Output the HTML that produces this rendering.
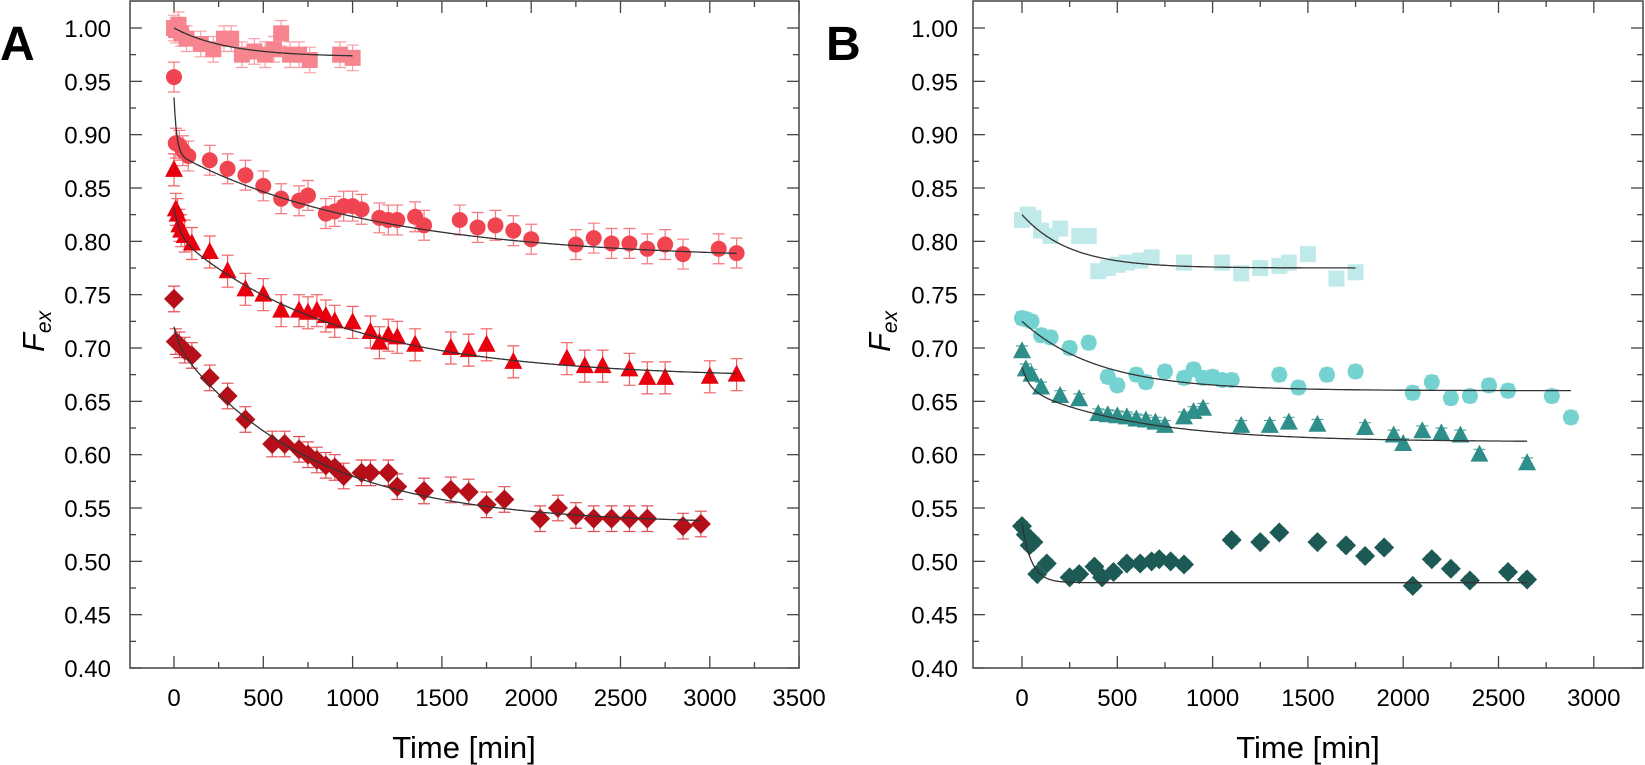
<!DOCTYPE html>
<html><head><meta charset="utf-8"><style>
html,body{margin:0;padding:0;background:#fff;}
svg{display:block;font-family:"Liberation Sans",Arial,sans-serif;}
</style></head><body>
<svg id="s" width="1645" height="765" viewBox="0 0 1645 765" xmlns="http://www.w3.org/2000/svg">
<text x="0" y="60" font-size="48" font-weight="bold">A</text>
<text x="826" y="60" font-size="48" font-weight="bold">B</text>
<text transform="translate(44,352) rotate(-90)" font-size="31" font-style="italic">F<tspan font-size="21" dy="7">ex</tspan></text>
<text transform="translate(890,352) rotate(-90)" font-size="31" font-style="italic">F<tspan font-size="21" dy="7">ex</tspan></text>
<text x="464" y="758" font-size="31" text-anchor="middle">Time [min]</text>
<text x="1308" y="758" font-size="31" text-anchor="middle">Time [min]</text>
<g id="g"></g>
</svg>
<script>
const NS="http://www.w3.org/2000/svg";const g=document.getElementById('g');
function el(t,a,txt){const e=document.createElementNS(NS,t);for(const k in a)e.setAttribute(k,a[k]);if(txt!==undefined)e.textContent=txt;g.appendChild(e);return e;}
const Y=v=>28+(1-v)*1066.67;
const P=[{L:130,R:799,x0:174,k:89.3/500,max:3500,lab:111},{L:973,R:1643,x0:1022,k:95.3/500,max:3000,lab:958}];
P.forEach(p=>{
 el('rect',{x:p.L,y:1,width:p.R-p.L,height:667,fill:'none',stroke:'#444','stroke-width':1.5});
 for(let i=0;i<=12;i++){const v=0.4+i*0.05,y=Y(v);
  el('line',{x1:p.L,y1:y,x2:p.L+12,y2:y,stroke:'#444','stroke-width':1.3});
  el('line',{x1:p.R,y1:y,x2:p.R-12,y2:y,stroke:'#444','stroke-width':1.3});
  if(i<12){const y2=Y(v+0.025);el('line',{x1:p.L,y1:y2,x2:p.L+6,y2:y2,stroke:'#444','stroke-width':1.3});el('line',{x1:p.R,y1:y2,x2:p.R-6,y2:y2,stroke:'#444','stroke-width':1.3});}
  el('text',{x:p.lab,y:y+9,'font-size':24,'text-anchor':'end'},v.toFixed(2));}
 for(let t=0;t<=p.max;t+=250){const x=p.x0+t*p.k;const big=t%500==0;
  el('line',{x1:x,y1:668,x2:x,y2:668-(big?12:6),stroke:'#444','stroke-width':1.3});
  el('line',{x1:x,y1:1,x2:x,y2:1+(big?12:6),stroke:'#444','stroke-width':1.3});
  if(big)el('text',{x:x,y:706,'font-size':24,'text-anchor':'middle'},String(t));}
});
function marker(shape,x,y,c){const r=8;
 if(shape=='s')el('rect',{x:x-r,y:y-r,width:2*r,height:2*r,fill:c});
 else if(shape=='c')el('circle',{cx:x,cy:y,r:r,fill:c});
 else if(shape=='t')el('polygon',{points:`${x},${y-10} ${x+9},${y+7} ${x-9},${y+7}`,fill:c});
 else el('polygon',{points:`${x},${y-10} ${x+10},${y} ${x},${y+10} ${x-10},${y}`,fill:c});}
function series(p,shape,c,ec,err,data,f,tmax){
 let d='';for(let t=0;t<=tmax;t+=5){d+=(t?'L':'M')+(p.x0+t*p.k).toFixed(1)+','+Y(f(t)).toFixed(1);}
 for(let i=0;i<data.length;i+=2){const x=p.x0+data[i]*p.k,y=Y(data[i+1]);
  if(err){const e=err*1066.67;el('path',{d:`M${x},${y-e}V${y+e}M${x-6},${y-e}h12M${x-6},${y+e}h12`,stroke:ec,'stroke-width':1.2,fill:'none'});}}
 for(let i=0;i<data.length;i+=2)marker(shape,p.x0+data[i]*p.k,Y(data[i+1]),c);
 el('path',{d:d,fill:'none',stroke:'#333','stroke-width':1.3});}
const A=P[0],B=P[1],E=Math.exp;
series(A,'s','#f7858f','#f7a0a8',0.012,[0,1.0,10,0.998,25,1.003,40,0.995,70,0.99,150,0.985,220,0.98,280,0.99,320,0.99,380,0.975,450,0.978,510,0.975,560,0.98,600,0.995,650,0.975,700,0.975,760,0.97,930,0.975,1000,0.972],t=>0.973+0.027*E(-t/300),1000);
series(A,'c','#f04450','#f57a80',0.014,[0,0.954,10,0.892,30,0.89,50,0.885,80,0.88,200,0.876,300,0.868,400,0.862,500,0.852,600,0.84,700,0.838,750,0.843,850,0.826,900,0.828,950,0.833,1000,0.833,1050,0.83,1150,0.822,1200,0.82,1250,0.82,1350,0.823,1400,0.815,1600,0.82,1700,0.813,1800,0.815,1900,0.81,2000,0.802,2250,0.797,2350,0.803,2450,0.798,2550,0.798,2650,0.793,2750,0.797,2850,0.788,3050,0.793,3150,0.789],t=>0.783+0.1*E(-t/1100)+0.052*E(-t/15),3150);
series(A,'t','#e8000f','#f06060',0.015,[0,0.867,10,0.83,20,0.825,30,0.815,40,0.81,60,0.805,100,0.798,200,0.79,300,0.772,400,0.755,500,0.75,600,0.735,700,0.735,750,0.733,800,0.735,850,0.73,900,0.725,1000,0.724,1100,0.715,1150,0.705,1200,0.712,1250,0.71,1350,0.703,1550,0.7,1650,0.698,1750,0.703,1900,0.687,2200,0.69,2300,0.683,2400,0.683,2550,0.68,2650,0.672,2750,0.672,3000,0.673,3150,0.675],t=>0.672+0.135*E(-t/900)+0.025*E(-t/30),3150);
series(A,'d','#b5101a','#e05058',0.012,[0,0.746,10,0.706,30,0.703,60,0.698,100,0.693,200,0.672,300,0.655,400,0.633,550,0.61,620,0.61,700,0.605,750,0.6,800,0.595,850,0.59,900,0.588,950,0.58,1050,0.583,1100,0.583,1200,0.583,1250,0.57,1400,0.566,1550,0.567,1650,0.565,1750,0.553,1850,0.558,2050,0.54,2150,0.55,2250,0.543,2350,0.54,2450,0.54,2550,0.54,2650,0.54,2850,0.533,2950,0.535],t=>0.535+0.17*E(-t/750)+0.015*E(-t/30),2950);
series(B,'s','#c0eaea','#c8eeee',0.006,[0,0.82,30,0.825,60,0.822,100,0.81,150,0.805,200,0.812,300,0.805,350,0.805,400,0.772,450,0.775,500,0.778,550,0.78,620,0.782,680,0.785,850,0.78,1050,0.78,1150,0.77,1250,0.775,1350,0.777,1400,0.78,1500,0.788,1650,0.765,1750,0.771],t=>0.775+0.05*E(-t/250),1750);
series(B,'c','#74d2d0','#9adcdc',0.006,[0,0.728,20,0.727,50,0.725,100,0.712,150,0.71,250,0.7,350,0.705,450,0.673,500,0.665,600,0.675,650,0.668,750,0.678,850,0.672,900,0.68,950,0.672,1000,0.673,1050,0.67,1100,0.67,1350,0.675,1450,0.663,1600,0.675,1750,0.678,2050,0.658,2150,0.668,2250,0.653,2350,0.655,2450,0.665,2550,0.66,2780,0.655,2880,0.635],t=>0.66+0.065*E(-t/400),2880);
series(B,'t','#2e8e8a','#5aa8a5',0.005,[0,0.697,20,0.68,50,0.675,100,0.663,200,0.655,300,0.652,400,0.638,450,0.637,500,0.636,550,0.635,600,0.633,650,0.632,700,0.63,750,0.627,850,0.635,900,0.64,950,0.643,1150,0.627,1300,0.627,1400,0.63,1550,0.628,1800,0.625,1950,0.618,2000,0.61,2100,0.622,2200,0.62,2300,0.618,2400,0.6,2650,0.592],t=>0.612+0.05*E(-t/600)+0.02*E(-t/40),2650);
series(B,'d','#1d5a56','#3a7a76',0.004,[0,0.533,20,0.525,40,0.515,60,0.518,80,0.488,130,0.498,250,0.485,300,0.488,380,0.495,420,0.485,480,0.49,550,0.498,620,0.498,680,0.5,720,0.502,780,0.5,850,0.497,1100,0.52,1250,0.518,1350,0.527,1550,0.518,1700,0.515,1800,0.505,1900,0.513,2050,0.477,2150,0.502,2250,0.493,2350,0.482,2550,0.49,2650,0.483],t=>0.48+0.055*E(-t/50),2650);
</script>
</body></html>
